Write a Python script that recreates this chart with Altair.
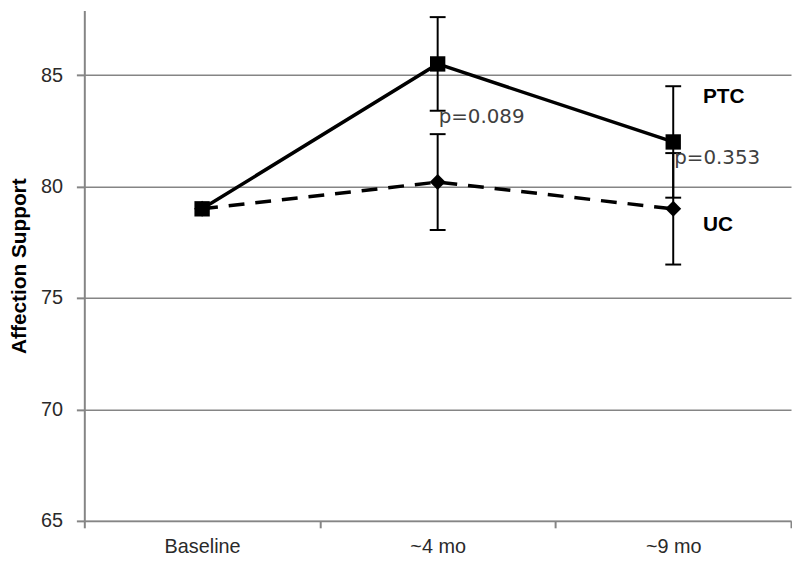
import altair as alt
import pandas as pd

# ---- data ----
categories = ["Baseline", "~4 mo", "~9 mo"]
ptc_mean = [79.0, 85.5, 82.0]
ptc_err = [0.0, 2.1, 2.5]
uc_mean = [79.0, 80.2, 79.0]
uc_err = [0.0, 2.15, 2.5]

group_labels = ["PTC", "UC"]
group_label_cat = ["~9 mo", "~9 mo"]
group_label_y = [84.0, 78.25]

p_labels = ["p=0.089", "p=0.353"]
p_label_cat = ["~4 mo", "~9 mo"]
p_label_y = [83.1, 81.27]

y_ticks = [65, 70, 75, 80, 85]
y_domain = [65, 87.9]

# ---- tables ----
ptc_df = pd.DataFrame({"cat": categories, "val": ptc_mean, "err": ptc_err})
uc_df = pd.DataFrame({"cat": categories, "val": uc_mean, "err": uc_err})
err_df = pd.concat([ptc_df, uc_df], ignore_index=True)
err_df = err_df[err_df["err"] > 0].copy()
err_df["lo"] = err_df["val"] - err_df["err"]
err_df["hi"] = err_df["val"] + err_df["err"]
caps_df = pd.concat([
    pd.DataFrame({"cat": err_df["cat"], "val": err_df["lo"]}),
    pd.DataFrame({"cat": err_df["cat"], "val": err_df["hi"]}),
], ignore_index=True)
grp_df = pd.DataFrame({"cat": group_label_cat, "val": group_label_y, "txt": group_labels})
p_df = pd.DataFrame({"cat": p_label_cat, "val": p_label_y, "txt": p_labels})

AX = "#858585"
x_enc = alt.X(
    "cat:N",
    sort=categories,
    scale=alt.Scale(type="band", domain=categories, paddingInner=0, paddingOuter=0),
    axis=alt.Axis(
        title=None, grid=False, tickBand="extent", tickSize=7, labelPadding=9,
        labelFont="Liberation Sans", labelFontSize=20, labelColor="#2a2a2a",
        labelAngle=0,
    ),
)


def y_enc(field):
    return alt.Y(
        f"{field}:Q",
        scale=alt.Scale(domain=y_domain, nice=False, zero=False),
        axis=alt.Axis(
            values=y_ticks, grid=True, tickSize=8, labelPadding=14,
            labelFont="Liberation Sans", labelFontSize=20, labelColor="#2a2a2a",
            title="Affection Support", titleFont="Liberation Sans", titleFontSize=21,
            titleFontWeight="bold", titleColor="black", titlePadding=11,
        ),
    )


uc_line = alt.Chart(uc_df).mark_line(color="black", strokeWidth=3.5, strokeDash=[16, 11]).encode(
    x=x_enc, y=y_enc("val")
)
err_rules = alt.Chart(err_df).mark_rule(color="black", strokeWidth=2).encode(
    x=x_enc, y=y_enc("lo"), y2="hi:Q"
)
err_caps = alt.Chart(caps_df).mark_tick(color="black", thickness=2, size=16, opacity=1).encode(
    x=x_enc, y=y_enc("val")
)
ptc_line = alt.Chart(ptc_df).mark_line(color="black", strokeWidth=3.5).encode(
    x=x_enc, y=y_enc("val")
)
uc_pts = alt.Chart(uc_df).mark_point(shape="diamond", filled=True, size=260, color="black", opacity=1).encode(
    x=x_enc, y=y_enc("val")
)
ptc_pts = alt.Chart(ptc_df).mark_point(shape="square", filled=True, size=240, color="black", opacity=1).encode(
    x=x_enc, y=y_enc("val")
)
grp_text = alt.Chart(grp_df).mark_text(
    align="left", baseline="middle", dx=30, font="Liberation Sans", fontSize=21,
    fontWeight="bold", color="black",
).encode(x=x_enc, y=y_enc("val"), text="txt:N")
p_text = alt.Chart(p_df).mark_text(
    align="left", baseline="middle", dx=1, font="DejaVu Sans", fontSize=20, color="#404040",
).encode(x=x_enc, y=y_enc("val"), text="txt:N")

chart = alt.layer(
    uc_line, err_rules, err_caps, ptc_line, uc_pts, ptc_pts, grp_text, p_text
).properties(
    width=713, height=515,
    padding={"left": 0, "top": 0, "right": 0, "bottom": 0},
    background="white",
).configure_view(stroke=None).configure_axis(
    gridColor=AX, gridWidth=1.5, domainColor=AX, domainWidth=2,
    tickColor=AX, tickWidth=2,
)

chart.save("out.html", embed_options={"renderer": "svg", "actions": False})
